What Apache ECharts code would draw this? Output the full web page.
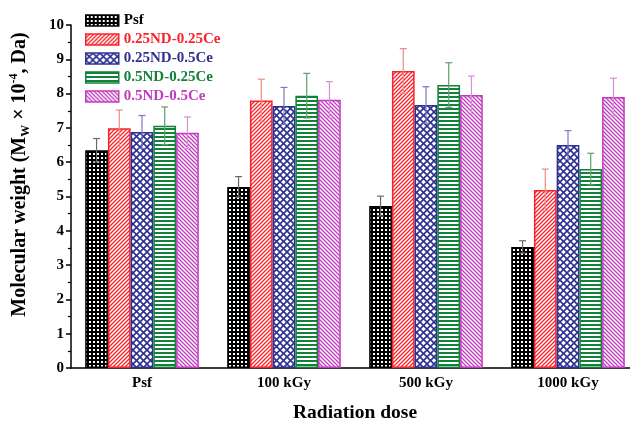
<!DOCTYPE html>
<html><head><meta charset="utf-8">
<script src="https://cdn.jsdelivr.net/npm/echarts@6/dist/echarts.min.js"></script>
<style>html,body{margin:0;padding:0;background:#fff}#c{width:630px;height:422px}</style>
</head><body><div id="c"></div>
<script>
const categories = ['Psf', '100 kGy', '500 kGy', '1000 kGy'];
const seriesNames = ['Psf', '0.25ND-0.25Ce', '0.25ND-0.5Ce', '0.5ND-0.25Ce', '0.5ND-0.5Ce'];
const valPsf   = [6.35, 5.28, 4.72, 3.53];
const valA     = [6.99, 7.80, 8.66, 5.19];
const valB     = [6.88, 7.64, 7.67, 6.50];
const valC     = [7.06, 7.94, 8.25, 5.80];
const valD     = [6.86, 7.82, 7.96, 7.90];
const errPsf   = [0.34, 0.30, 0.29, 0.18];
const errA     = [0.53, 0.62, 0.65, 0.61];
const errB     = [0.48, 0.54, 0.53, 0.42];
const errC     = [0.55, 0.65, 0.65, 0.46];
const errD     = [0.46, 0.53, 0.55, 0.55];
const yTicks = ['0','1','2','3','4','5','6','7','8','9','10'];

const values = [valPsf, valA, valB, valC, valD];
const errors = [errPsf, errA, errB, errC, errD];
const colors = ['#000000', '#f5232a', '#2e3192', '#12813a', '#c23bbf'];
const errColors = ['#6a6a6a', '#f08a80', '#7a7ac4', '#5d9e70', '#d98ed8'];

function tile(w, h, draw) {
  const c = document.createElement('canvas'); c.width = w; c.height = h;
  const g = c.getContext('2d'); g.fillStyle = '#fff'; g.fillRect(0, 0, w, h); draw(g);
  return { image: c, repeat: 'repeat' };
}
function diag(g, w, col, lw, dir) {
  g.strokeStyle = col; g.lineWidth = lw; g.beginPath();
  for (let k = -1; k <= 1; k++) {
    if (dir > 0) { g.moveTo(k * w - 1, w + 1); g.lineTo(k * w + w + 1, -1); }
    else { g.moveTo(k * w - 1, -1); g.lineTo(k * w + w + 1, w + 1); }
  }
  g.stroke();
}
const patterns = [
  tile(4, 4, g => { g.fillStyle = '#000'; g.fillRect(0, 0, 4, 4); g.fillStyle = '#fff'; g.fillRect(1, 1, 2, 2); }),
  tile(4, 4, g => diag(g, 4, colors[1], 1.3, 1)),
  tile(7, 7, g => { diag(g, 7, colors[2], 1.6, 1); diag(g, 7, colors[2], 1.6, -1); }),
  tile(4, 4, g => { g.fillStyle = colors[3]; g.fillRect(0, 0, 4, 2); }),
  tile(4, 4, g => diag(g, 4, colors[4], 1.3, -1))
];

const font = '"Liberation Serif", "Times New Roman", serif';
const series = [];
seriesNames.forEach((n, i) => {
  series.push({
    name: n, type: 'bar', data: values[i], barGap: '0%', barCategoryGap: '20%',
    itemStyle: { color: patterns[i], borderColor: colors[i], borderWidth: 1.5 },
    emphasis: { disabled: true }, z: 2
  });
});
seriesNames.forEach((n, i) => {
  series.push({
    type: 'custom', z: 5, silent: true,
    data: values[i].map((v, j) => [j, v, errors[i][j]]),
    renderItem: function (params, api) {
      const cat = api.value(0), v = api.value(1), e = api.value(2);
      const bandW = api.size([1, 0])[0];
      const bw = bandW * 0.8 / 5;
      const cx = api.coord([cat, v])[0] + (i - 2) * bw;
      const yt = api.coord([cat, v + e])[1];
      const yb = api.coord([cat, v - e])[1];
      const cap = 3.5;
      const st = { stroke: errColors[i], lineWidth: 1.2, fill: null };
      return { type: 'group', children: [
        { type: 'line', shape: { x1: cx, y1: yt, x2: cx, y2: yb }, style: st },
        { type: 'line', shape: { x1: cx - cap, y1: yt, x2: cx + cap, y2: yt }, style: st },
        { type: 'line', shape: { x1: cx - cap, y1: yb, x2: cx + cap, y2: yb }, style: st }
      ]};
    }
  });
});

const chart = echarts.init(document.getElementById('c'), null, { renderer: 'canvas' });
chart.setOption({
  animation: false,
  backgroundColor: '#fff',
  grid: { left: 71, top: 25, width: 568, height: 343, containLabel: false, outerBoundsMode: 'none' },
  legend: {
    orient: 'vertical', left: 85, top: 13, padding: 0, itemWidth: 33, itemHeight: 11, itemGap: 4,
    icon: 'rect',
    data: seriesNames.map((n, i) => ({ name: n, textStyle: { color: colors[i] } })),
    textStyle: { fontFamily: font, fontWeight: 'bold', fontSize: 15 },
    itemStyle: { borderWidth: 1.5 }
  },
  xAxis: [{
    type: 'category', data: categories, position: 'bottom',
    axisLine: { lineStyle: { color: '#000', width: 1.5 } },
    axisTick: { alignWithLabel: true, length: 5, lineStyle: { color: '#000', width: 1.5 } },
    axisLabel: { fontFamily: font, fontWeight: 'bold', fontSize: 15, color: '#000', margin: 8 },
    name: 'Radiation dose', nameLocation: 'middle', nameGap: 35,
    nameTextStyle: { fontFamily: font, fontWeight: 'bold', fontSize: 19.5, color: '#000' }
  }, {
    type: 'category', data: categories, position: 'bottom',
    axisLine: { show: false },
    axisTick: { alignWithLabel: false, length: 3, lineStyle: { color: '#000', width: 1.2 } },
    axisLabel: { show: false }
  }],
  yAxis: {
    type: 'value', min: 0, max: 10, interval: 1,
    axisLine: { show: true, lineStyle: { color: '#000', width: 1.5 } },
    axisTick: { show: true, length: 5, lineStyle: { color: '#000', width: 1.5 } },
    minorTick: { show: true, splitNumber: 2, length: 3, lineStyle: { color: '#000', width: 1.2 } },
    splitLine: { show: false },
    axisLabel: { fontFamily: font, fontWeight: 'bold', fontSize: 15, color: '#000', margin: 7,
      formatter: (v) => yTicks[Math.round(v)] },
    name: '{a|Molecular weight (M}{sub|W}{a| × 10}{sup|-4}{a|, Da)}',
    nameLocation: 'middle', nameGap: 39, nameRotate: 90,
    nameTextStyle: {
      padding: [0, 0, 0, 44],
      rich: {
        a: { fontFamily: font, fontWeight: 'bold', fontSize: 20, color: '#000', lineHeight: 24, verticalAlign: 'middle' },
        sub: { fontFamily: font, fontWeight: 'bold', fontSize: 12, color: '#000', lineHeight: 24, verticalAlign: 'bottom' },
        sup: { fontFamily: font, fontWeight: 'bold', fontSize: 12, color: '#000', lineHeight: 24, verticalAlign: 'top' }
      }
    }
  },
  series: series
});
</script></body></html>
